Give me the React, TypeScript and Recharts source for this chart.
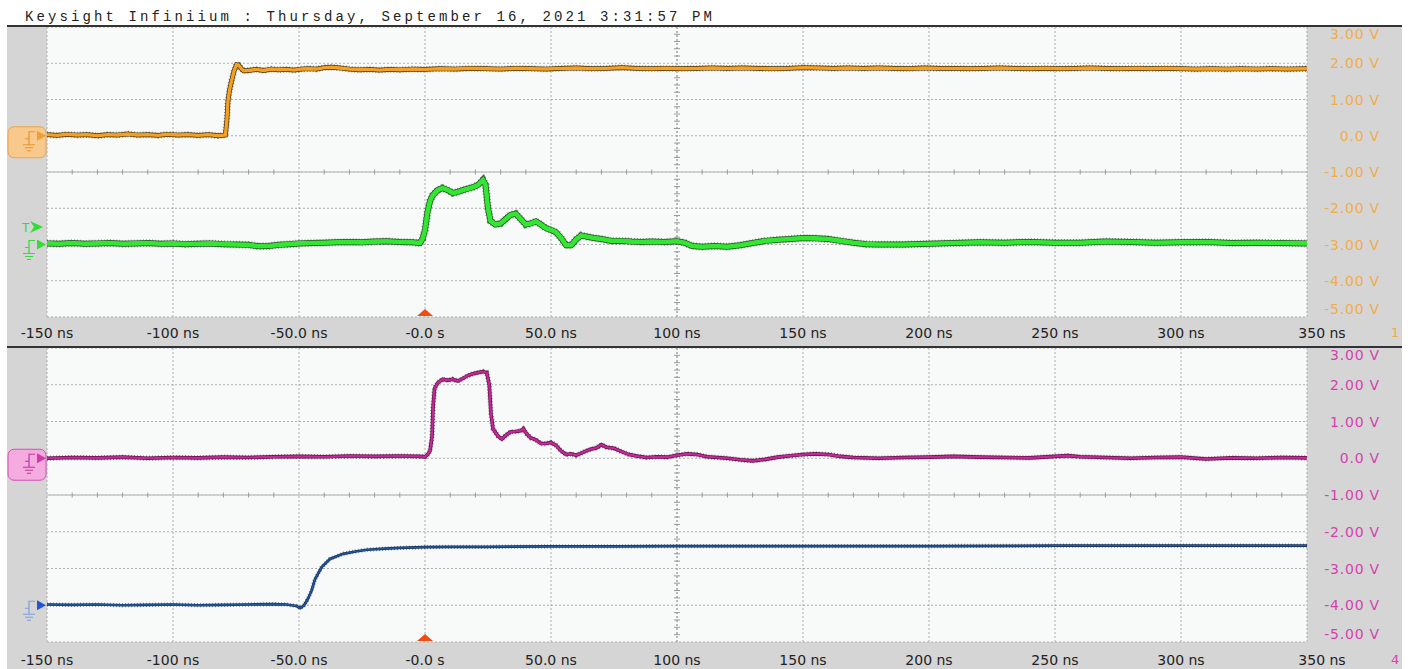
import { LineChart, Line, XAxis, YAxis, CartesianGrid, ReferenceLine, ReferenceDot } from 'recharts';

// 50 ns/div horizontal, 1 V/div vertical
const TIME_TICKS = [-150, -100, -50, 0, 50, 100, 150, 200, 250, 300, 350];
const TIME_LABELS = ['-150 ns', '-100 ns', '-50.0 ns', '-0.0 s', '50.0 ns', '100 ns', '150 ns', '200 ns', '250 ns', '300 ns', '350 ns'];
const VOLT_TICKS = [3, 2, 1, 0, -1, -2, -3, -4, -5];
const VOLT_LABELS = ['3.00 V', '2.00 V', '1.00 V', '0.0 V', '-1.00 V', '-2.00 V', '-3.00 V', '-4.00 V', '-5.00 V'];

// channel 1, [ns, V]
const CH1: [number, number][] = [
  [-150, 0.03], [-146, 0.01], [-142, 0.04], [-138, 0.02], [-134, 0.03], [-130, 0.0], [-126, 0.03], [-122, 0.02],
  [-118, 0.05], [-114, 0.02], [-110, 0.03], [-106, 0.01], [-102, 0.04], [-98, 0.02], [-94, 0.03], [-90, 0.01],
  [-86, 0.03], [-82, 0.0], [-79.2, 0.02], [-78.6, 0.45], [-78.2, 0.95], [-77.6, 1.25], [-76.8, 1.5], [-75.8, 1.78],
  [-74.8, 1.96], [-74, 1.95], [-73, 1.86], [-72, 1.79], [-70, 1.8], [-67, 1.83], [-64, 1.8], [-61, 1.84],
  [-58, 1.82], [-55, 1.83], [-52, 1.81], [-49, 1.84], [-46, 1.85], [-43, 1.84], [-40, 1.88], [-37, 1.89],
  [-34, 1.87], [-30, 1.84], [-26, 1.82], [-22, 1.83], [-18, 1.81], [-14, 1.83], [-10, 1.82], [-5, 1.84],
  [0, 1.83], [6, 1.85], [12, 1.84], [18, 1.86], [24, 1.85], [30, 1.84], [36, 1.86], [42, 1.85],
  [48, 1.84], [54, 1.86], [60, 1.87], [66, 1.85], [72, 1.86], [78, 1.88], [84, 1.86], [90, 1.85],
  [96, 1.86], [102, 1.85], [108, 1.86], [114, 1.87], [120, 1.86], [126, 1.87], [132, 1.86], [138, 1.85],
  [144, 1.86], [150, 1.88], [156, 1.87], [162, 1.86], [168, 1.87], [174, 1.86], [180, 1.87], [186, 1.86],
  [192, 1.85], [198, 1.87], [204, 1.86], [210, 1.86], [216, 1.85], [222, 1.86], [228, 1.87], [234, 1.86],
  [240, 1.85], [246, 1.86], [252, 1.85], [258, 1.86], [264, 1.87], [270, 1.86], [276, 1.85], [282, 1.86],
  [288, 1.85], [294, 1.86], [300, 1.85], [306, 1.84], [312, 1.85], [318, 1.84], [324, 1.85], [330, 1.84],
  [336, 1.85], [342, 1.84], [350, 1.85],
];

// channel 2
const CH2: [number, number][] = [
  [-150, -2.97], [-145, -2.98], [-140, -2.96], [-135, -2.98], [-130, -2.97], [-125, -2.96], [-120, -2.98], [-115, -2.97],
  [-110, -2.96], [-105, -2.98], [-100, -2.97], [-95, -2.99], [-90, -2.98], [-85, -2.97], [-80, -2.99], [-75, -3.0],
  [-70, -3.01], [-66, -3.05], [-62, -3.04], [-58, -3.01], [-54, -2.99], [-50, -2.97], [-45, -2.96], [-40, -2.95],
  [-35, -2.94], [-30, -2.93], [-25, -2.94], [-20, -2.92], [-15, -2.91], [-10, -2.93], [-5, -2.94], [-2, -2.96],
  [-1, -2.85], [0, -2.6], [1, -2.1], [2, -1.8], [3, -1.65], [5, -1.5], [7, -1.44], [9, -1.5],
  [11, -1.58], [13, -1.55], [15, -1.5], [17, -1.46], [19, -1.42], [21, -1.36], [23, -1.22], [24, -1.35],
  [25, -2.0], [26, -2.35], [28, -2.45], [30, -2.42], [32, -2.3], [34, -2.18], [36, -2.15], [38, -2.3],
  [40, -2.45], [42, -2.42], [44, -2.36], [46, -2.45], [48, -2.55], [50, -2.6], [52, -2.66], [54, -2.82],
  [56, -3.02], [58, -3.02], [60, -2.86], [62, -2.75], [64, -2.78], [67, -2.82], [70, -2.85], [74, -2.9],
  [78, -2.9], [82, -2.92], [86, -2.93], [90, -2.92], [95, -2.93], [100, -2.91], [103, -2.95], [106, -3.04],
  [110, -3.06], [115, -3.04], [120, -3.06], [125, -3.02], [130, -2.96], [135, -2.9], [140, -2.87], [145, -2.85],
  [150, -2.82], [155, -2.83], [160, -2.85], [165, -2.9], [170, -2.95], [175, -2.99], [180, -3.0], [190, -3.0],
  [200, -2.98], [210, -2.96], [220, -2.94], [230, -2.95], [240, -2.93], [250, -2.95], [260, -2.95], [270, -2.92],
  [280, -2.93], [290, -2.95], [300, -2.94], [310, -2.93], [320, -2.96], [330, -2.95], [340, -2.96], [350, -2.97],
];

// channel 3
const CH3: [number, number][] = [
  [-150, -3.98], [-140, -3.99], [-130, -3.98], [-120, -4.0], [-110, -3.99], [-100, -3.98], [-90, -4.0], [-80, -3.99],
  [-70, -3.98], [-60, -3.97], [-55, -3.98], [-51, -4.02], [-49.5, -4.08], [-48, -4.0], [-46.5, -3.83], [-45, -3.6],
  [-43.7, -3.3], [-41, -2.96], [-37.7, -2.74], [-32.5, -2.6], [-27, -2.53], [-23, -2.49], [-16, -2.46], [-10, -2.44],
  [0, -2.42], [10, -2.41], [25, -2.41], [50, -2.4], [75, -2.4], [100, -2.39], [150, -2.39], [200, -2.39],
  [250, -2.38], [300, -2.38], [350, -2.38],
];

// channel 4
const CH4: [number, number][] = [
  [-150, 0.0], [-140, 0.02], [-130, 0.01], [-120, 0.03], [-110, 0.0], [-100, 0.02], [-90, 0.01], [-80, 0.03],
  [-70, 0.02], [-60, 0.04], [-50, 0.05], [-40, 0.04], [-30, 0.06], [-20, 0.05], [-10, 0.06], [-2, 0.05],
  [0, 0.04], [1, 0.1], [2, 0.2], [2.8, 0.6], [3.2, 1.4], [3.8, 1.9], [5, 2.05], [7, 2.15],
  [9, 2.12], [11, 2.15], [13, 2.1], [15, 2.17], [17, 2.25], [19, 2.3], [21, 2.33], [23, 2.36],
  [24.5, 2.33], [25.5, 2.0], [26.2, 1.2], [27, 0.8], [29, 0.6], [30.5, 0.52], [32, 0.62], [34, 0.72],
  [36, 0.73], [38, 0.75], [39, 0.8], [40.5, 0.65], [42, 0.55], [44, 0.5], [46, 0.4], [48, 0.4],
  [50, 0.43], [52, 0.35], [54, 0.2], [56, 0.1], [58, 0.12], [60, 0.08], [62, 0.14], [64, 0.2],
  [66, 0.25], [68, 0.28], [70, 0.37], [72, 0.3], [75, 0.27], [78, 0.18], [81, 0.1], [84, 0.06],
  [88, 0.02], [92, 0.04], [96, 0.03], [100, 0.08], [104, 0.12], [108, 0.1], [112, 0.04], [116, 0.02],
  [120, 0.0], [125, -0.04], [130, -0.07], [135, -0.03], [140, 0.03], [145, 0.07], [150, 0.1], [155, 0.12],
  [160, 0.1], [165, 0.05], [170, 0.02], [180, 0.0], [190, 0.02], [200, 0.03], [210, 0.05], [220, 0.03],
  [230, 0.02], [240, 0.01], [250, 0.05], [255, 0.07], [260, 0.04], [270, 0.02], [280, 0.0], [290, 0.02],
  [300, 0.03], [310, -0.02], [320, 0.01], [330, 0.0], [340, 0.02], [350, 0.01],
];

const GRAY = '#d5d5d5';
const SCREEN = '#f7faf9';

const rows = (pts: [number, number][]) => pts.map(([t, v]) => ({ t, v }));

// minor ticks along the center graticule lines
const MINOR_T: number[] = [];
for (let t = -140; t < 350; t += 10) if (t % 50 !== 0) MINOR_T.push(t);
const MINOR_V: number[] = [];
for (let i = -24; i < 16; i++) if (i % 5 !== 0) MINOR_V.push(i / 5);

type Trace = { pts: [number, number][]; core: string; edge: string; w: number };

function groundGlyph(x: number, y: number, color: string) {
  return (
    <path
      d={`M${x - 20} ${y + 3} h4 v-7 h6 M${x - 16} ${y + 3} v6 M${x - 22} ${y + 9} h12 M${x - 20} ${y + 12} h8 M${x - 18} ${y + 15} h4`}
      stroke={color}
      strokeWidth={1.2}
      fill="none"
    />
  );
}

function arrow(x: number, y: number, color: string) {
  return <polygon points={`${x - 10},${y - 5} ${x - 1},${y} ${x - 10},${y + 5}`} fill={color} />;
}

function traceLines(tr: Trace, i: number) {
  const data = rows(tr.pts);
  const common = { data, dataKey: 'v', type: 'linear' as const, dot: false, activeDot: false, isAnimationActive: false };
  return [
    // speckled dark fringe, then solid edge, then bright core
    <Line key={`s${i}`} {...common} stroke={tr.edge} strokeWidth={tr.w + 3} strokeDasharray="1 2" strokeOpacity={0.55} />,
    <Line key={`e${i}`} {...common} stroke={tr.edge} strokeWidth={tr.w + 1.4} />,
    <Line key={`c${i}`} {...common} stroke={tr.core} strokeWidth={tr.w} />,
  ];
}

function Panel(props: {
  top: number;
  height: number;
  axisHeight: number;
  labelDy: number;
  voltColor: string;
  traces: Trace[];
  markers: { v: number; draw: (cx: number, cy: number) => any }[];
}) {
  const { top, height, axisHeight, labelDy, voltColor, traces, markers } = props;
  const plotH = height - axisHeight;
  const halfV = (2.5 * 8) / plotH;
  return (
    <div style={{ position: 'absolute', left: 7, top }}>
      <LineChart width={1395} height={height} margin={{ top: 0, right: 0, bottom: 0, left: 40 }}>
        <CartesianGrid fill={SCREEN} stroke="#acacac" strokeDasharray="2 2" />
        <XAxis
          dataKey="t"
          type="number"
          domain={[-150, 350]}
          ticks={TIME_TICKS}
          interval={0}
          allowDataOverflow
          axisLine={false}
          tickLine={false}
          tickSize={0}
          tickMargin={0}
          height={axisHeight}
          tick={(p: any) => {
            const i = TIME_TICKS.indexOf(p.payload.value);
            const dx = i === TIME_TICKS.length - 1 ? 15 : 0;
            return (
              <text x={p.x + dx} y={p.y + labelDy} textAnchor="middle" fontSize={14} fontFamily="DejaVu Sans" fill="#222">
                {TIME_LABELS[i]}
              </text>
            );
          }}
        />
        <YAxis
          orientation="right"
          type="number"
          domain={[-5, 3]}
          ticks={VOLT_TICKS}
          interval={0}
          allowDataOverflow
          axisLine={false}
          tickLine={false}
          tickSize={0}
          tickMargin={0}
          width={95}
          tick={(p: any) => {
            const i = VOLT_TICKS.indexOf(p.payload.value);
            const y = Math.min(Math.max(p.y, 7), plotH - 8);
            return (
              <text x={p.x + 73} y={y} dominantBaseline="central" textAnchor="end" fontSize={14} fontFamily="DejaVu Sans" letterSpacing={0.8} fill={voltColor}>
                {VOLT_LABELS[i]}
              </text>
            );
          }}
        />
        <ReferenceLine x={100} stroke="#9c9c9c" strokeDasharray="2 2" />
        <ReferenceLine y={-1} stroke="#9c9c9c" strokeDasharray="2 2" />
        {MINOR_T.map((t) => (
          <ReferenceLine key={`mt${t}`} segment={[{ x: t, y: -1 - halfV }, { x: t, y: -1 + halfV }]} stroke="#9a9a9a" />
        ))}
        {MINOR_V.map((v) => (
          <ReferenceLine key={`mv${v}`} segment={[{ x: 98.8, y: v }, { x: 101.2, y: v }]} stroke="#9a9a9a" />
        ))}
        {traces.map((tr, i) => traceLines(tr, i))}
        {markers.map((m, i) => (
          <ReferenceDot
            key={`m${i}`}
            x={-150}
            y={m.v}
            ifOverflow="visible"
            shape={(p: any) => m.draw(p.cx, p.cy)}
          />
        ))}
        <ReferenceDot
          x={0}
          y={-5}
          ifOverflow="visible"
          shape={(p: any) => <polygon points={`${p.cx - 8},${p.cy - 1} ${p.cx + 8},${p.cy - 1} ${p.cx},${p.cy - 8}`} fill="#f04c14" />}
        />
      </LineChart>
    </div>
  );
}

export default function App() {
  return (
    <div style={{ position: 'absolute', left: 0, top: 0, width: 1410, height: 669, background: '#fff', overflow: 'hidden' }}>
      <div
        style={{
          position: 'absolute',
          left: 25,
          top: 9,
          fontFamily: 'Liberation Mono, monospace',
          fontSize: 14,
          letterSpacing: 3.1,
          lineHeight: '16px',
          color: '#222',
          whiteSpace: 'pre',
        }}
      >
        Keysight Infiniium : Thursday, September 16, 2021 3:31:57 PM
      </div>
      <div style={{ position: 'absolute', left: 7, top: 26, width: 1395, height: 643, background: GRAY }} />
      <div style={{ position: 'absolute', left: 7, top: 25, width: 1395, height: 1.5, background: '#333' }} />
      <Panel
        top={27}
        height={320}
        axisHeight={30}
        labelDy={21}
        voltColor="#f2ac4a"
        traces={[
          { pts: CH1, core: '#f3a024', edge: '#4a3308', w: 3.4 },
          { pts: CH2, core: '#33e633', edge: '#1d4f1d', w: 4.6 },
        ]}
        markers={[
          {
            v: 0,
            draw: (cx, cy) => (
              <g>
                <rect x={cx - 39} y={cy - 9} width={38} height={31} rx={6} fill="#f7c98c" stroke="#eda24a" />
                {groundGlyph(cx - 2, cy, '#e8962e')}
                {arrow(cx, cy, '#f0a030')}
              </g>
            ),
          },
          {
            v: -2.52,
            draw: (cx, cy) => (
              <g>
                <text x={cx - 25} y={cy + 1} fontSize={12} fontFamily="DejaVu Sans" fill="#33dd33" dominantBaseline="central">T</text>
                <polygon points={`${cx - 17},${cy - 6} ${cx - 4},${cy} ${cx - 17},${cy + 6} ${cx - 13},${cy}`} fill="#33dd33" />
              </g>
            ),
          },
          {
            v: -3,
            draw: (cx, cy) => (
              <g>
                {groundGlyph(cx - 2, cy, '#33dd33')}
                {arrow(cx, cy, '#33dd33')}
              </g>
            ),
          },
        ]}
      />
      <div style={{ position: 'absolute', left: 7, top: 346, width: 1395, height: 1.5, background: '#333' }} />
      <Panel
        top={348}
        height={321}
        axisHeight={27}
        labelDy={23}
        voltColor="#d63fb0"
        traces={[
          { pts: CH4, core: '#c42a96', edge: '#5e1048', w: 2.2 },
          { pts: CH3, core: '#22589e', edge: '#15325f', w: 1.3 },
        ]}
        markers={[
          {
            v: 0,
            draw: (cx, cy) => (
              <g>
                <rect x={cx - 39} y={cy - 9} width={38} height={31} rx={6} fill="#f4abdf" stroke="#d84fb6" />
                {groundGlyph(cx - 2, cy, '#c8329e')}
                {arrow(cx, cy, '#d23aa8')}
              </g>
            ),
          },
          {
            v: -4,
            draw: (cx, cy) => (
              <g>
                {groundGlyph(cx - 2, cy, '#7b9fe0')}
                {arrow(cx, cy, '#1e56dc')}
              </g>
            ),
          },
        ]}
      />
      <div style={{ position: 'absolute', left: 1391, top: 325, fontFamily: 'DejaVu Sans', fontSize: 13, color: '#f2ac4a' }}>1</div>
      <div style={{ position: 'absolute', left: 1391, top: 652, fontFamily: 'DejaVu Sans', fontSize: 13, color: '#d63fb0' }}>4</div>
    </div>
  );
}
